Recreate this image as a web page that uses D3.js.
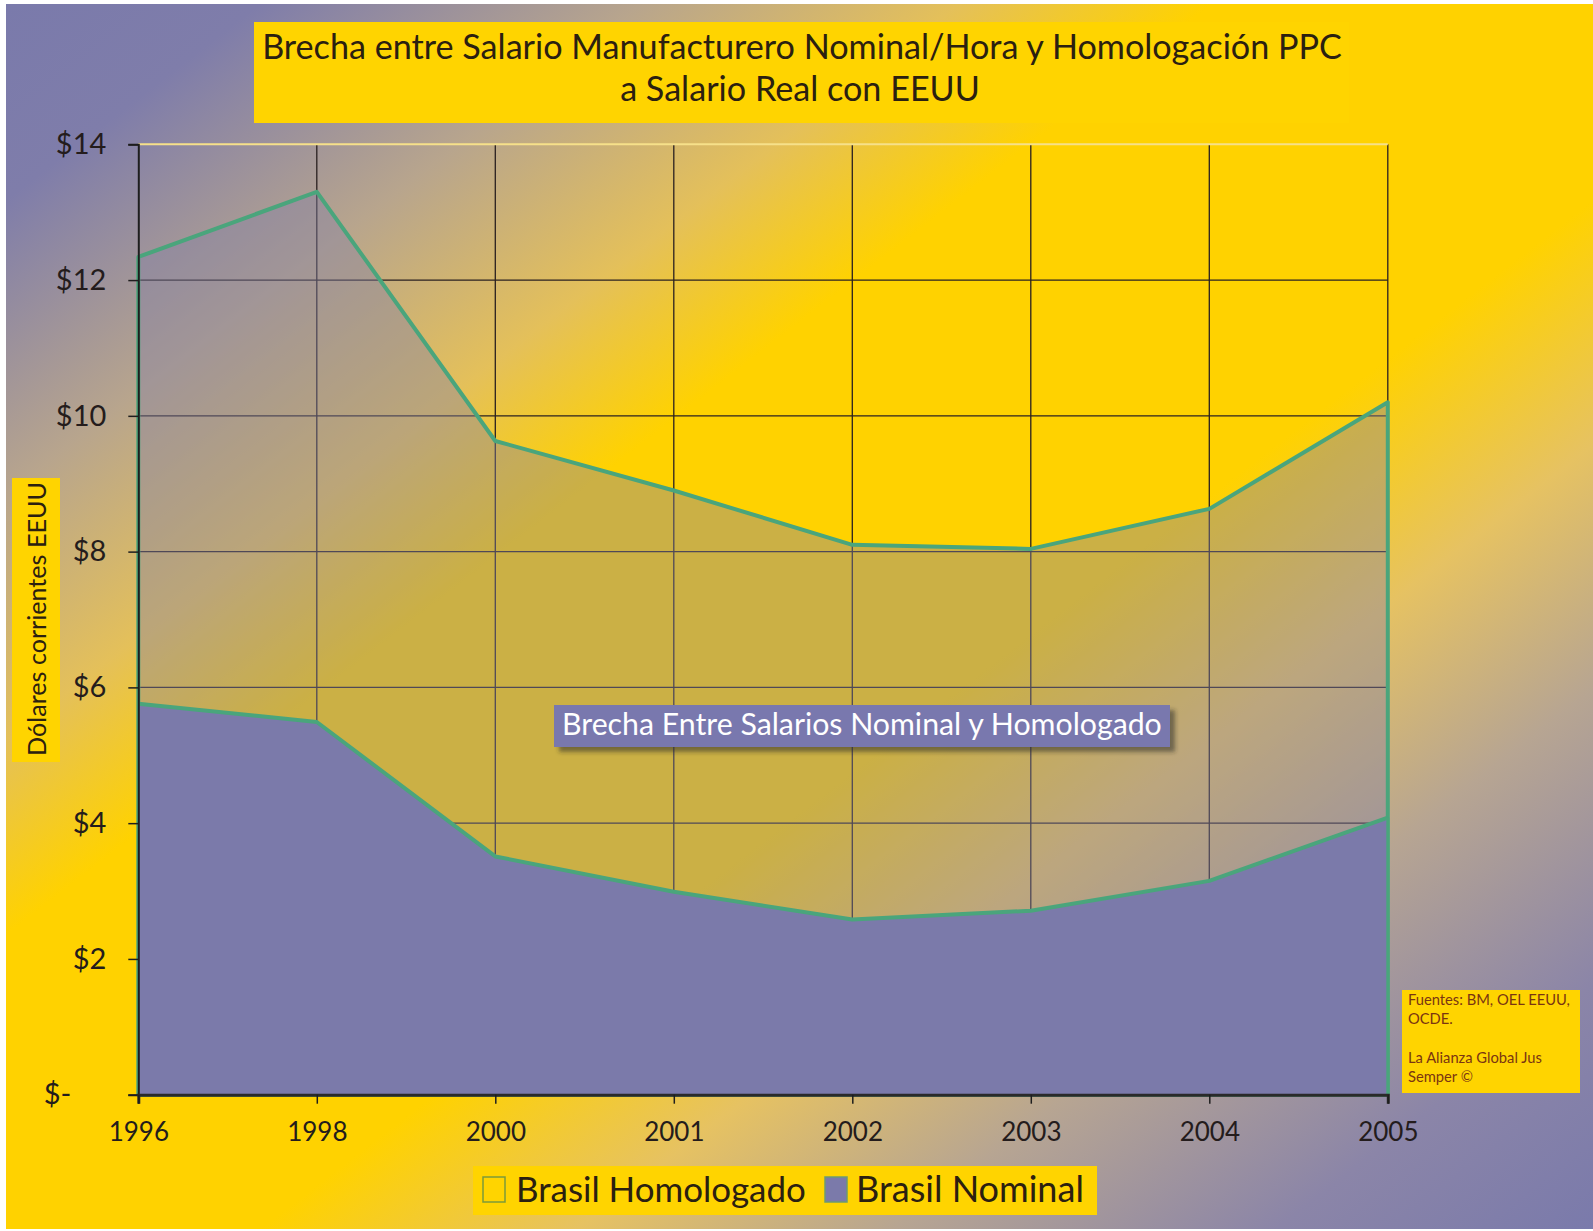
<!DOCTYPE html>
<html><head><meta charset="utf-8">
<script src="https://cdn.jsdelivr.net/npm/d3@7"></script>
<style>
body{margin:0;background:#fff;}
svg{display:block;}
text{font-family:Lato,"Open Sans",sans-serif;}
</style>
</head><body>
<script>
// ---- data ----
const years = ["1996","1998","2000","2001","2002","2003","2004","2005"];
const homologado = [12.34, 13.30, 9.63, 8.90, 8.10, 8.04, 8.63, 10.20];
const nominal = [5.76, 5.49, 3.51, 2.99, 2.58, 2.71, 3.15, 4.08];
const yTicks = [0, 2, 4, 6, 8, 10, 12, 14];
const yTickLabels = ["$-", "$2", "$4", "$6", "$8", "$10", "$12", "$14"];
const titleLines = ["Brecha entre Salario Manufacturero Nominal/Hora y Homologación PPC", "a Salario Real con EEUU"];
const yTitle = "Dólares corrientes EEUU";
const seriesNames = ["Brasil Homologado", "Brasil Nominal"];
const annotation = "Brecha Entre Salarios Nominal y Homologado";
const sourceLines = ["Fuentes: BM, OEL EEUU,", "OCDE.", "", "La Alianza Global Jus", "Semper ©"];

// ---- setup ----
const W = 1593, H = 1231;
const YELLOW = "#ffd400", PURPLE = "#7b7aaa", GREEN = "#4aa57c";
const svg = d3.select("body").append("svg").attr("width", W).attr("height", H);
const defs = svg.append("defs");
const grad = defs.append("linearGradient").attr("id", "bg")
  .attr("x1", 0).attr("y1", 0).attr("x2", 1).attr("y2", 1);
[[0, "#7a7aab"], [0.08, "#7f7daa"], [0.2, "#b8a58d"], [0.3, "#e4c05a"], [0.38, "#ffd200"],
 [0.58, "#ffd200"], [0.68, "#e6c262"], [0.78, "#b7a592"], [0.9, "#8b85a8"], [1, "#7a7aab"]]
  .forEach(([o, c]) => grad.append("stop").attr("offset", o).attr("stop-color", c));
const blur = defs.append("filter").attr("id", "sh").attr("x", "-10%").attr("y", "-30%").attr("width", "120%").attr("height", "160%");
blur.append("feGaussianBlur").attr("stdDeviation", 2);

svg.append("rect").attr("x", 6).attr("y", 4).attr("width", W - 6).attr("height", H - 6).attr("fill", "url(#bg)");

function fit(sel, target) {
  const w = sel.node().getComputedTextLength();
  const fs = parseFloat(sel.attr("font-size"));
  const nfs = fs * target / w;
  sel.attr("font-size", nfs);
  return nfs;
}

// ---- scales ----
const x = d3.scalePoint().domain(years).range([138.3, 1387.8]);
const y = d3.scaleLinear().domain([0, 14]).range([1094.7, 144.3]);

// ---- grid ----
const grid = svg.append("g");
grid.selectAll("line.h").data(yTicks.filter(v => v > 0 && v < 14)).join("line")
  .attr("x1", x(years[0])).attr("x2", x(years[years.length - 1]))
  .attr("y1", d => y(d)).attr("y2", d => y(d))
  .attr("stroke", "#2a2020").attr("stroke-width", 1.3);
grid.selectAll("line.v").data(years.slice(1)).join("line")
  .attr("x1", d => x(d)).attr("x2", d => x(d))
  .attr("y1", y(14)).attr("y2", y(0))
  .attr("stroke", "#2a2020").attr("stroke-width", 1.3);
grid.append("line")
  .attr("x1", x(years[0])).attr("x2", x(years[years.length - 1]))
  .attr("y1", y(14)).attr("y2", y(14))
  .attr("stroke", "#f6e08a").attr("stroke-width", 2);

// ---- areas ----
const areaGen = d3.area().x((d, i) => x(years[i])).y0(y(0)).y1(d => y(d));
const lineGen = d3.line().x((d, i) => x(years[i])).y(d => y(d));
svg.append("path").datum(homologado).attr("d", areaGen)
  .attr("fill", "rgba(130,128,165,0.42)")
  .attr("stroke", GREEN).attr("stroke-width", 4).attr("stroke-linejoin", "round");
svg.append("path").datum(nominal).attr("d", areaGen).attr("fill", PURPLE);
svg.append("path").datum(nominal).attr("d", lineGen)
  .attr("fill", "none").attr("stroke", GREEN).attr("stroke-width", 4).attr("stroke-linejoin", "round");
svg.append("line").attr("x1", x(years[years.length - 1])).attr("x2", x(years[years.length - 1]))
  .attr("y1", y(nominal[nominal.length - 1])).attr("y2", y(0))
  .attr("stroke", GREEN).attr("stroke-width", 3);

// ---- axes ----
const yAxis = d3.axisLeft(y).tickValues(yTicks)
  .tickFormat(d => yTickLabels[yTicks.indexOf(d)]).tickSize(10).tickPadding(22);
const gy = svg.append("g").attr("transform", `translate(${x(years[0])},0)`).call(yAxis);
gy.select(".domain").attr("stroke", "#1e1e1e").attr("stroke-width", 2);
gy.selectAll(".tick line").attr("stroke", "#1e1e1e").attr("stroke-width", 1.5);
gy.selectAll(".tick text").attr("font-size", 29).attr("fill", "#241c1c")
  .attr("font-family", "Lato, 'Open Sans', sans-serif")
  .attr("dx", d => d === 0 ? -35 : 0);

const xAxis = d3.axisBottom(x).tickSize(9).tickPadding(19);
const gx = svg.append("g").attr("transform", `translate(0,${y(0)})`).call(xAxis);
gx.select(".domain").attr("stroke", "#2a2a2a").attr("stroke-width", 3);
gx.selectAll(".tick line").attr("stroke", "#1e1e1e").attr("stroke-width", 1.5);
gx.selectAll(".tick text").attr("font-size", 26).attr("fill", "#241c1c")
  .attr("font-family", "Lato, 'Open Sans', sans-serif");

// ---- title ----
svg.append("rect").attr("x", 254).attr("y", 22).attr("width", 1095).attr("height", 101).attr("fill", YELLOW);
const t1 = svg.append("text").attr("x", 802).attr("y", 59).attr("text-anchor", "middle")
  .attr("font-size", 32).attr("fill", "#2b2010").text(titleLines[0]);
const tfs = fit(t1, 1080);
svg.append("text").attr("x", 800).attr("y", 101).attr("text-anchor", "middle")
  .attr("font-size", tfs).attr("fill", "#2b2010").text(titleLines[1]);

// ---- y title ----
svg.append("rect").attr("x", 12).attr("y", 478).attr("width", 48).attr("height", 284).attr("fill", YELLOW);
const yt = svg.append("text").attr("transform", "translate(36,619) rotate(-90)")
  .attr("text-anchor", "middle").attr("dominant-baseline", "central")
  .attr("font-size", 22).attr("fill", "#2b2010").text(yTitle);
fit(yt, 274);

// ---- annotation ----
svg.append("rect").attr("x", 559).attr("y", 710).attr("width", 616).attr("height", 42)
  .attr("fill", "rgba(50,45,40,0.55)").attr("filter", "url(#sh)");
svg.append("rect").attr("x", 554).attr("y", 705).attr("width", 616).attr("height", 42).attr("fill", "#7978ae");
const an = svg.append("text").attr("x", 562).attr("y", 735).attr("font-size", 28)
  .attr("fill", "#ffffff").text(annotation);
fit(an, 600);

// ---- legend ----
svg.append("rect").attr("x", 473).attr("y", 1166).attr("width", 624).attr("height", 49).attr("fill", YELLOW);
svg.append("rect").attr("x", 483).attr("y", 1177).attr("width", 22).attr("height", 25)
  .attr("fill", YELLOW).attr("stroke", "#7c9a3a").attr("stroke-width", 1.5);
svg.append("rect").attr("x", 825).attr("y", 1177).attr("width", 22).attr("height", 25)
  .attr("fill", PURPLE).attr("stroke", "#6d9a70").attr("stroke-width", 1.5);
const l1 = svg.append("text").attr("x", 516).attr("y", 1202).attr("font-size", 32)
  .attr("fill", "#2b2010").text(seriesNames[0]);
fit(l1, 290);
const l2 = svg.append("text").attr("x", 856).attr("y", 1202).attr("font-size", 32)
  .attr("fill", "#2b2010").text(seriesNames[1]);
fit(l2, 228);

// ---- source ----
svg.append("rect").attr("x", 1402).attr("y", 990).attr("width", 178).attr("height", 103).attr("fill", YELLOW);
const src = svg.append("g");
let sfs = 14;
sourceLines.forEach((s, i) => {
  const t = src.append("text").attr("x", 1408).attr("y", 1005 + i * 19.2)
    .attr("font-size", sfs).attr("fill", "#7a3512").text(s);
  if (i === 0) sfs = fit(t, 162);
});
</script>
</body></html>
